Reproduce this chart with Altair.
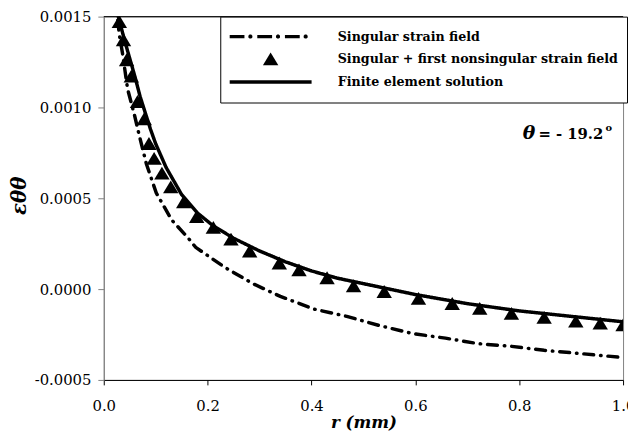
import altair as alt
import pandas as pd
import math

series_names = [
    "Singular strain field",
    "Singular + first nonsingular strain field",
    "Finite element solution",
]

# Singular strain field (dash-dot)
r_sing = [0.027, 0.030, 0.036, 0.046, 0.059, 0.068, 0.082, 0.101, 0.131, 0.163,
          0.177, 0.233, 0.287, 0.340, 0.405, 0.468, 0.530, 0.595, 0.658, 0.720,
          0.785, 0.848, 0.911, 0.994]
e_sing = [0.00148, 0.00140, 0.00130, 0.00110, 0.00096, 0.00085, 0.00069, 0.00053,
          0.00038, 0.00028, 0.00023, 0.00012, 0.00003, -0.00004, -0.00011, -0.00015,
          -0.00020, -0.000245, -0.00027, -0.00030, -0.000315, -0.000337, -0.000353,
          -0.000375]

# Singular + first nonsingular strain field (triangles)
r_tri = [0.030, 0.038, 0.044, 0.053, 0.065, 0.078, 0.087, 0.097, 0.112, 0.129,
         0.154, 0.179, 0.211, 0.245, 0.281, 0.338, 0.376, 0.430, 0.481, 0.540,
         0.606, 0.671, 0.724, 0.785, 0.848, 0.909, 0.956, 1.000]
e_tri = [0.00147, 0.00137, 0.00126, 0.00117, 0.00103, 0.000935, 0.000799, 0.000717,
         0.000636, 0.00056, 0.000478, 0.000397, 0.000337, 0.000272, 0.000207,
         0.000141, 0.000103, 0.00006, 0.000016, -0.000016, -0.000054, -0.000082,
         -0.000109, -0.000136, -0.000158, -0.000179, -0.00019, -0.0002]

# Finite element solution (solid)
r_fe = [0.028, 0.04, 0.05, 0.06, 0.07, 0.08, 0.09, 0.10, 0.12, 0.15, 0.18, 0.21,
        0.25, 0.30, 0.35, 0.40, 0.45, 0.50, 0.60, 0.70, 0.80, 0.90, 1.00]
e_fe = [0.00150, 0.00137, 0.00127, 0.00117, 0.00106, 0.00097, 0.00088, 0.00080,
        0.00067, 0.00052, 0.00042, 0.00035, 0.00028, 0.00021, 0.00015, 0.00010,
        0.00006, 0.00003, -0.00003, -0.00008, -0.00012, -0.00015, -0.00018]

x_ticks = [0.0, 0.2, 0.4, 0.6, 0.8, 1.0]
y_ticks = [-0.0005, 0.0, 0.0005, 0.0010, 0.0015]

# annotation pieces: theta (right-aligned), value (right-aligned), superscript o
ann_text = ["\u03b8", "= - 19.2", "o"]
ann_r = [0.831, 0.962, 0.966]
ann_e = [0.000826, 0.000826, 0.000868]

lines = pd.DataFrame({
    "r": r_sing + r_fe,
    "e": e_sing + e_fe,
    "series": [series_names[0]] * len(r_sing) + [series_names[2]] * len(r_fe),
})
tris = pd.DataFrame({"r": r_tri, "e": e_tri, "series": [series_names[1]] * len(r_tri)})

SERIF = "DejaVu Serif"

SYM = 6889                 # symbol area -> 83 px wide legend symbols
U = 2.0 / 83.0             # one pixel in symbol units
HALF = 1.75 * U            # half line thickness


def rect(x0, x1):
    return f"M{x0:.4f},{-HALF:.4f}L{x1:.4f},{-HALF:.4f}L{x1:.4f},{HALF:.4f}L{x0:.4f},{HALF:.4f}Z"


def dot(cx, rad):
    pts = []
    for k in range(8):
        a = math.pi / 8 + k * math.pi / 4
        pts.append((cx + rad * math.cos(a), rad * math.sin(a)))
    return "M" + "L".join(f"{px:.4f},{py:.4f}" for px, py in pts) + "Z"


SOLID_PATH = rect(-1, 1)
dd_parts = []
pos = -1.0
for _ in range(3):
    dd_parts.append(rect(pos, pos + 15 * U))
    dd_parts.append(dot(pos + 21 * U, 2.2 * U))
    pos += 28 * U
DASHDOT_PATH = "".join(dd_parts)
TRI_PATH = f"M0,{-7 * U:.4f}L{7.8 * U:.4f},{6 * U:.4f}L{-7.8 * U:.4f},{6 * U:.4f}Z"

ylabel_expr = "replace(format(datum.value, '.4f'), '\u2212', '-')"

xenc = alt.X("r:Q", scale=alt.Scale(domain=[0, 1], nice=False, zero=False),
             axis=alt.Axis(values=x_ticks, format=".1f", title="r (mm)",
                           titleFont=SERIF, titleFontSize=17, titleFontWeight="bold",
                           titleFontStyle="italic", titleColor="black",
                           titleX=263, titleY=48, titleBaseline="alphabetic",
                           labelFont=SERIF, labelFontSize=15, labelColor="black",
                           labelPadding=14, tickSize=5, tickColor="black",
                           domainColor="black", grid=False, labelFlush=False))
yenc = alt.Y("e:Q", scale=alt.Scale(domain=[-0.0005, 0.0015], nice=False, zero=False),
             axis=alt.Axis(values=y_ticks, labelExpr=ylabel_expr, title="\u03b5\u03b8\u03b8",
                           titleFont=SERIF, titleFontSize=20, titleFontWeight="bold",
                           titleFontStyle="italic", titleColor="black",
                           titleX=-85, titleY=181, titleAngle=270,
                           titleAlign="center", titleBaseline="middle",
                           labelFont=SERIF, labelFontSize=15, labelColor="black",
                           labelPadding=7, tickSize=6, tickColor="#808080",
                           domainColor="#808080", grid=False))

leg = alt.Legend(title=None, orient="none", legendX=118, legendY=0)

dash_scale = alt.Scale(domain=series_names, range=[[10, 7, 0.5, 7], [1, 0], [1, 0]])
shape_scale = alt.Scale(domain=series_names, range=[DASHDOT_PATH, TRI_PATH, SOLID_PATH])

line_layer = alt.Chart(lines).mark_line(
    color="black", strokeWidth=3.5, strokeCap="round", clip=True
).encode(
    x=xenc, y=yenc,
    strokeDash=alt.StrokeDash("series:N", scale=dash_scale, legend=leg),
)

tri_layer = alt.Chart(tris).mark_point(
    filled=True, color="black", opacity=1, size=SYM, clip=True
).encode(
    x="r:Q", y="e:Q",
    shape=alt.Shape("series:N", scale=shape_scale, legend=leg),
)

top_rule = alt.Chart(pd.DataFrame({"e": [y_ticks[-1]]})).mark_rule(
    color="black", strokeWidth=1
).encode(y="e:Q")

ann = pd.DataFrame({"t": ann_text, "r": ann_r, "e": ann_e})
ann_theta = alt.Chart(ann.iloc[[0]]).mark_text(
    font=SERIF, fontSize=19, fontWeight="bold", fontStyle="italic",
    align="right", baseline="alphabetic", color="black"
).encode(x="r:Q", y="e:Q", text="t:N")
ann_val = alt.Chart(ann.iloc[[1]]).mark_text(
    font=SERIF, fontSize=15, fontWeight="bold",
    align="right", baseline="alphabetic", color="black"
).encode(x="r:Q", y="e:Q", text="t:N")
ann_deg = alt.Chart(ann.iloc[[2]]).mark_text(
    font=SERIF, fontSize=10, fontWeight="bold",
    align="left", baseline="alphabetic", color="black"
).encode(x="r:Q", y="e:Q", text="t:N")

chart = alt.layer(
    top_rule, line_layer, tri_layer, ann_theta, ann_val, ann_deg
).properties(
    width=526, height=368,
    autosize=alt.AutoSizeParams(type="none"),
    padding={"left": 97, "top": 6, "right": 5, "bottom": 50},
    background="white",
).configure_view(
    stroke="#808080", strokeWidth=1
).configure_legend(
    symbolSize=SYM, symbolStrokeWidth=0.5, symbolStrokeColor="black",
    symbolFillColor="black", clipHeight=22.5,
    labelFont=SERIF, labelFontSize=12.8, labelFontWeight="bold", labelColor="black",
    labelOffset=26, labelLimit=500, padding=9, rowPadding=0,
    strokeColor="black", fillColor="white", strokeWidth=1,
)

chart.save("out.html", embed_options={"renderer": "svg", "actions": False})
